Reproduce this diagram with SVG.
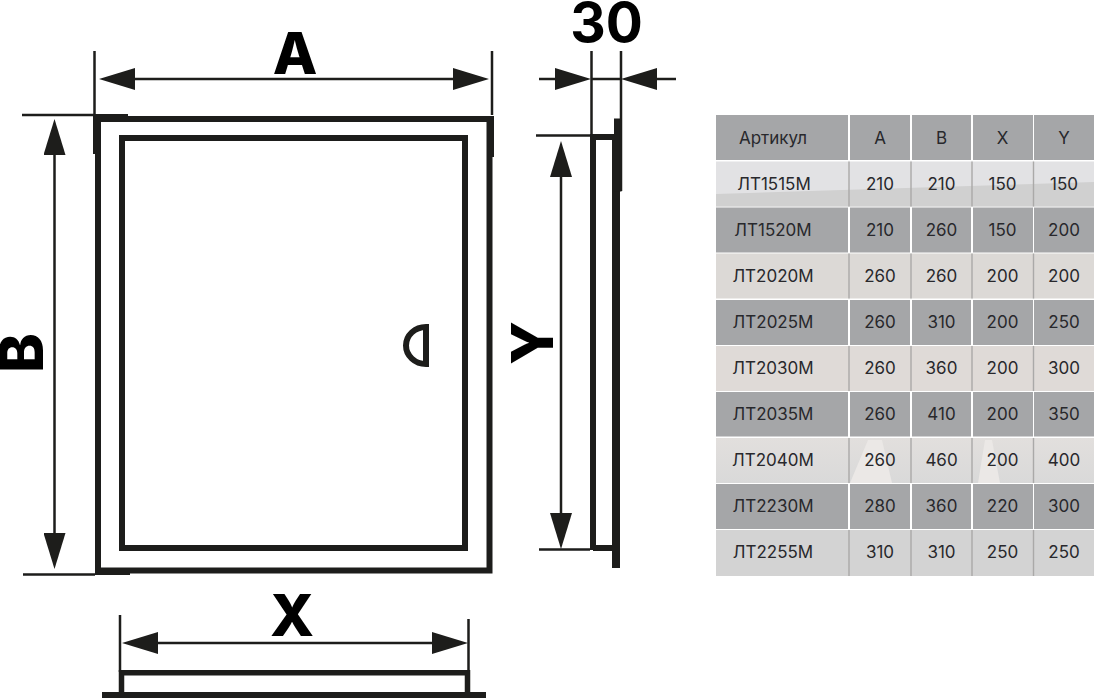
<svg xmlns="http://www.w3.org/2000/svg" width="1095" height="700" viewBox="0 0 1095 700">
<defs>
<style>
.ink{fill:#1d1d1b}
.body{fill:none;stroke:#1d1d1b;stroke-width:6;stroke-miterlimit:10}
.ext{fill:none;stroke:#1d1d1b;stroke-width:2.5}
.dim{fill:none;stroke:#1d1d1b;stroke-width:2.5;marker-start:url(#head);marker-end:url(#head)}
.dimE{fill:none;stroke:#1d1d1b;stroke-width:2.5;marker-end:url(#head)}
.dimS{fill:none;stroke:#1d1d1b;stroke-width:2.5;marker-start:url(#head)}
.big{font-family:"Inter","Liberation Sans",sans-serif;font-weight:800;fill:#000;text-anchor:middle}
.cell{font-family:"Inter","Liberation Sans",sans-serif;font-weight:400;font-size:17px;fill:#28282c;text-anchor:middle}
.dark{fill:#a5a6a8}
.sep{stroke:#aaa9a8;stroke-width:1.4}
</style>
<marker id="head" markerUnits="userSpaceOnUse" viewBox="0 0 36 22" markerWidth="36" markerHeight="22" refX="0" refY="11" orient="auto-start-reverse"><path d="M0,0L36,11L0,22Z" fill="#1d1d1b"/></marker>
<linearGradient id="r7" x1="0" y1="0" x2="0" y2="1"><stop offset="0" stop-color="#e2dfdd"/><stop offset="1" stop-color="#d9d9d9"/></linearGradient>
</defs>
<rect width="1095" height="700" fill="#fff"/>

<g id="front-view">
<rect class="body" x="98" y="119" width="391.500" height="451.500"/>
<rect class="body" x="122" y="138" width="343" height="410"/>
<rect class="ink" x="93" y="114" width="8" height="40"/>
<rect class="ink" x="93" y="114" width="35" height="4"/>
<rect class="ink" x="489" y="116" width="5" height="41"/>
<rect class="ink" x="95" y="571" width="35" height="4"/>
<path class="body" d="M426,327A20,18.500 0 0 0 426,364Z"/>
</g>

<g id="side-view">
<path class="body" d="M593,550V137H615M593,548H616"/>
<rect class="ink" x="612" y="140" width="8" height="428"/>
<rect class="ink" x="614" y="118.500" width="7.500" height="73"/>
</g>

<g id="bottom-view">
<path class="body" style="stroke-width:5.500" d="M121.500,693V672.750H467.500V693"/>
<rect class="ink" x="102" y="692" width="384" height="6"/>
</g>

<g id="connectors">
<path class="ext" d="M94.500,51V115M492,51V115M22,115H95M23,574.500H95M591.500,51V135M621,51V191M536,135.500H590M539,549.500H590M120,615V672M468.500,619V672"/>
<line class="dim" x1="135" y1="79" x2="453" y2="79"/>
<line class="dim" x1="54.500" y1="155" x2="54.500" y2="533"/>
<line class="dim" x1="561" y1="177" x2="561" y2="513"/>
<line class="dim" x1="158" y1="643" x2="432" y2="643"/>
<line class="dimE" x1="539" y1="79" x2="555" y2="79"/>
<line class="dimS" x1="657" y1="79" x2="676" y2="79"/>
<line class="ext" x1="591" y1="79" x2="621" y2="79"/>
</g>

<g id="labels">
<text class="big" font-size="58" x="295" y="74">A</text>
<text class="big" style="font-weight:700" font-size="55" x="606.500" y="42">30</text>
<text class="big" font-size="58" x="292" y="636">X</text>
<text class="big" font-size="60" transform="translate(43,353) rotate(-90)">B</text>
<text class="big" font-size="58" transform="translate(553,343) rotate(-90)">Y</text>
</g>

<g id="table">
<g id="table-bg">
<path class="dark" d="M716,115H848V160H716ZM850,115H910V160H850ZM912,115H971V160H912ZM973,115H1033V160H973ZM1034,115H1094V160H1034Z"/>
<rect x="716" y="161.500" width="378" height="45" fill="#e2e2e4"/>
<path d="M716,194L1094,182V206.500H716Z" fill="#d0d0d0"/>
<path class="dark" d="M716,207.500H848V252.500H716ZM850,207.500H910V252.500H850ZM912,207.500H971V252.500H912ZM973,207.500H1033V252.500H973ZM1034,207.500H1094V252.500H1034Z"/>
<rect x="716" y="253.500" width="378" height="45" fill="#dcd9d6"/>
<path class="dark" d="M716,300H848V345H716ZM850,300H910V345H850ZM912,300H971V345H912ZM973,300H1033V345H973ZM1034,300H1094V345H1034Z"/>
<rect x="716" y="346" width="378" height="45" fill="#dfdad7"/>
<path class="dark" d="M716,392H848V436.500H716ZM850,392H910V436.500H850ZM912,392H971V436.500H912ZM973,392H1033V436.500H973ZM1034,392H1094V436.500H1034Z"/>
<rect x="716" y="438" width="378" height="45" fill="url(#r7)"/>
<path d="M850,483L868,440L882,440L892,483ZM978,483L985,440L992,440L1000,483Z" fill="#ebe8e6"/>
<path class="dark" d="M716,484H848V529H716ZM850,484H910V529H850ZM912,484H971V529H912ZM973,484H1033V529H973ZM1034,484H1094V529H1034Z"/>
<rect x="716" y="530" width="378" height="46" fill="#d3d3d3"/>
<path class="sep" d="M849,161.500V206.500M911,161.500V206.500M972,161.500V206.500M1033.500,161.500V206.500M849,253.500V298.500M911,253.500V298.500M972,253.500V298.500M1033.500,253.500V298.500M849,346V391M911,346V391M972,346V391M1033.500,346V391M849,438V483M911,438V483M972,438V483M1033.500,438V483M849,530V576M911,530V576M972,530V576M1033.500,530V576"/>
</g>
<g id="table-text">
<text class="cell" x="773" y="144">Артикул</text><text class="cell" x="880" y="144">A</text><text class="cell" x="941.500" y="144">B</text><text class="cell" x="1002.500" y="144">X</text><text class="cell" x="1064" y="144">Y</text>
<text class="cell" x="774" y="190">ЛТ1515М</text><text class="cell" x="880" y="190">210</text><text class="cell" x="941.500" y="190">210</text><text class="cell" x="1002.500" y="190">150</text><text class="cell" x="1064" y="190">150</text>
<text class="cell" x="773" y="236">ЛТ1520М</text><text class="cell" x="880" y="236">210</text><text class="cell" x="941.500" y="236">260</text><text class="cell" x="1002.500" y="236">150</text><text class="cell" x="1064" y="236">200</text>
<text class="cell" x="773" y="282">ЛТ2020М</text><text class="cell" x="880" y="282">260</text><text class="cell" x="941.500" y="282">260</text><text class="cell" x="1002.500" y="282">200</text><text class="cell" x="1064" y="282">200</text>
<text class="cell" x="773" y="328">ЛТ2025М</text><text class="cell" x="880" y="328">260</text><text class="cell" x="941.500" y="328">310</text><text class="cell" x="1002.500" y="328">200</text><text class="cell" x="1064" y="328">250</text>
<text class="cell" x="773" y="374">ЛТ2030М</text><text class="cell" x="880" y="374">260</text><text class="cell" x="941.500" y="374">360</text><text class="cell" x="1002.500" y="374">200</text><text class="cell" x="1064" y="374">300</text>
<text class="cell" x="773" y="420">ЛТ2035М</text><text class="cell" x="880" y="420">260</text><text class="cell" x="941.500" y="420">410</text><text class="cell" x="1002.500" y="420">200</text><text class="cell" x="1064" y="420">350</text>
<text class="cell" x="773" y="466">ЛТ2040М</text><text class="cell" x="880" y="466">260</text><text class="cell" x="941.500" y="466">460</text><text class="cell" x="1002.500" y="466">200</text><text class="cell" x="1064" y="466">400</text>
<text class="cell" x="773" y="512">ЛТ2230М</text><text class="cell" x="880" y="512">280</text><text class="cell" x="941.500" y="512">360</text><text class="cell" x="1002.500" y="512">220</text><text class="cell" x="1064" y="512">300</text>
<text class="cell" x="773" y="558">ЛТ2255М</text><text class="cell" x="880" y="558">310</text><text class="cell" x="941.500" y="558">310</text><text class="cell" x="1002.500" y="558">250</text><text class="cell" x="1064" y="558">250</text>
</g>
</g>
</svg>
